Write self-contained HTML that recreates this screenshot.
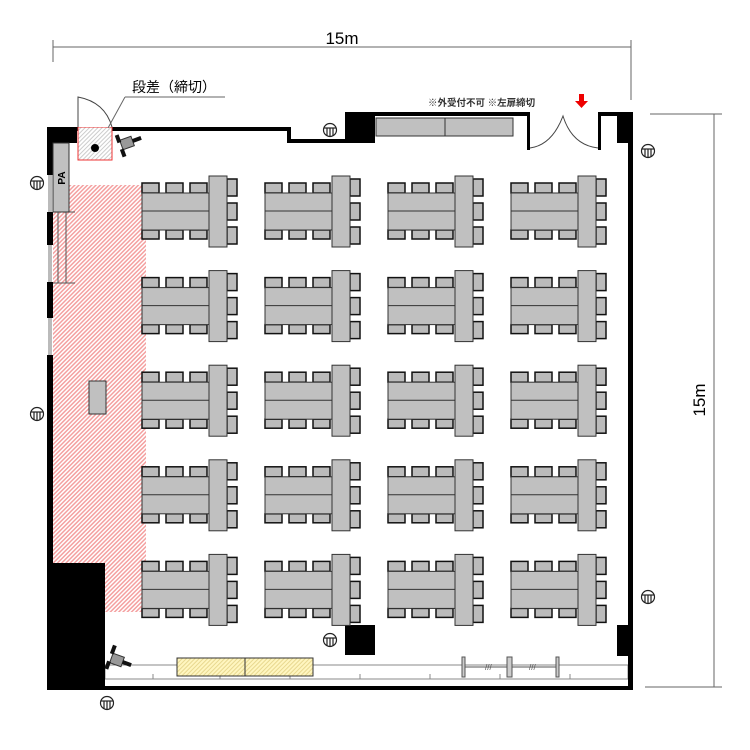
<!DOCTYPE html>
<html><head><meta charset="utf-8"><style>
html,body{margin:0;padding:0;background:#fff;}
svg{display:block;}
text{font-family:"Liberation Sans","Noto Sans CJK JP",sans-serif;}
</style></head><body>
<svg id="s" width="750" height="750" viewBox="0 0 750 750" xmlns="http://www.w3.org/2000/svg">
<defs>
<pattern id="pk" width="3" height="3" patternUnits="userSpaceOnUse" patternTransform="rotate(45)">
<rect width="3" height="3" fill="#fff"/><rect width="1.5" height="3" fill="#f4a0a0"/></pattern>
<pattern id="gy" width="3" height="3" patternUnits="userSpaceOnUse" patternTransform="rotate(45)">
<rect width="3" height="3" fill="#fff"/><rect width="1" height="3" fill="#ccc"/></pattern>
<pattern id="yl" width="3" height="3" patternUnits="userSpaceOnUse" patternTransform="rotate(45)">
<rect width="3" height="3" fill="#fff6c0"/><rect width="1" height="3" fill="#e8d890"/></pattern>
</defs>
<g stroke="#666" stroke-width="1">
<line x1="53" y1="47" x2="631" y2="47"/>
<line x1="53" y1="40" x2="53" y2="62"/>
<line x1="631" y1="40" x2="631" y2="100"/>
<line x1="714" y1="114" x2="714" y2="687"/>
<line x1="650" y1="114" x2="722" y2="114"/>
<line x1="645" y1="687" x2="722" y2="687"/>
</g>
<text x="342" y="44" font-size="17" text-anchor="middle">15m</text>
<text x="0" y="0" font-size="17" text-anchor="middle" transform="translate(705,400) rotate(-90)">15m</text>
<rect x="53" y="212" width="93" height="400" fill="url(#pk)"/>
<rect x="69" y="185" width="77" height="27" fill="url(#pk)"/>
<rect x="105" y="665" width="523" height="14" fill="#fff" stroke="#888"/>
<g stroke="#888"><line x1="153" y1="679" x2="153" y2="674"/><line x1="220" y1="679" x2="220" y2="674"/><line x1="290" y1="679" x2="290" y2="674"/><line x1="360" y1="679" x2="360" y2="674"/><line x1="430" y1="679" x2="430" y2="674"/><line x1="500" y1="679" x2="500" y2="674"/><line x1="570" y1="679" x2="570" y2="674"/></g>
<rect x="177" y="658" width="136" height="18" fill="url(#yl)" stroke="#333"/>
<line x1="245" y1="658" x2="245" y2="676" stroke="#333"/>
<g stroke="#555" fill="#ccc">
<rect x="462" y="657" width="3" height="20"/><rect x="507" y="657" width="5" height="20"/><rect x="556" y="657" width="3" height="20"/>
<line x1="465" y1="667" x2="507" y2="667"/><line x1="512" y1="667" x2="556" y2="667"/>
</g>
<text x="485" y="670" font-size="8" fill="#555">///</text><text x="529" y="670" font-size="8" fill="#555">///</text>
<g fill="#000">
<rect x="47" y="127" width="30" height="16"/>
<rect x="47" y="127" width="6" height="48"/>
<rect x="47" y="212" width="6" height="33"/>
<rect x="47" y="282" width="6" height="36"/>
<rect x="47" y="355" width="6" height="335"/>
<rect x="77" y="127" width="213" height="4"/>
<rect x="287" y="127" width="4" height="15"/>
<rect x="287" y="139" width="60" height="4"/>
<rect x="345" y="112" width="30" height="31"/>
<rect x="345" y="112" width="185" height="4"/>
<rect x="527" y="112" width="3" height="38"/>
<rect x="598" y="112" width="35" height="4"/>
<rect x="598" y="112" width="3" height="38"/>
<rect x="617" y="112" width="16" height="31"/>
<rect x="628" y="112" width="5" height="578"/>
<rect x="47" y="686" width="586" height="4"/>
<rect x="47" y="563" width="58" height="127"/>
<rect x="345" y="625" width="30" height="30"/>
<rect x="617" y="625" width="16" height="31"/>
</g>
<g fill="#bbb"><rect x="48" y="175" width="4" height="37"/><rect x="48" y="245" width="4" height="37"/><rect x="48" y="318" width="4" height="37"/></g>
<g stroke="#555" fill="none"><line x1="58" y1="212" x2="58" y2="283"/><line x1="66" y1="212" x2="66" y2="283"/><line x1="53" y1="212" x2="75" y2="212"/><line x1="53" y1="283" x2="75" y2="283"/></g>
<rect x="53" y="143" width="16" height="69" fill="#c0c0c0" stroke="#333"/>
<text x="0" y="0" font-size="10" font-weight="bold" text-anchor="middle" transform="translate(65,178) rotate(-90)">PA</text>
<rect x="376" y="118" width="137" height="18" fill="#c0c0c0" stroke="#333"/>
<line x1="445" y1="118" x2="445" y2="136" stroke="#333"/>
<path d="M530 148 Q552 145 563 116 Q572 145 598 148" fill="none" stroke="#444"/>
<rect x="78" y="127" width="34" height="33" fill="url(#gy)" stroke="#e33"/>
<path d="M78 127 L78 97 Q105 102 112 127" fill="#fff" stroke="#444"/>
<circle cx="95" cy="148" r="4" fill="#000"/>
<line x1="125" y1="97" x2="225" y2="97" stroke="#666"/>
<line x1="125" y1="97" x2="108" y2="128" stroke="#666"/>
<text x="132" y="92" font-size="14">段差（締切）</text>
<text x="428" y="106" font-size="9.5" font-weight="bold" fill="#333">※外受付不可 ※左扉締切</text>
<path d="M579 94 h5 v7 h4 l-6.5 7 l-6.5 -7 h4z" fill="#e00"/>
<g transform="translate(127,143) rotate(-20)"><rect x="-6" y="-5" width="12" height="10" fill="#999" stroke="#333"/><rect x="-9" y="-11" width="4" height="8" fill="#111"/><rect x="6" y="-2" width="9" height="4" fill="#111"/><rect x="-9" y="4" width="4" height="8" fill="#111"/></g>
<g transform="translate(117,660) rotate(20)"><rect x="-6" y="-5" width="12" height="10" fill="#999" stroke="#333"/><rect x="-9" y="-13" width="4" height="9" fill="#111"/><rect x="6" y="-2" width="9" height="4" fill="#111"/><rect x="-9" y="4" width="4" height="8" fill="#111"/></g>
<rect x="89" y="381" width="17" height="33" fill="#c0c0c0" stroke="#333"/>
<g id="outs" fill="#fff" stroke="#222" stroke-width="1.2"></g>
<g id="tables"></g>
</svg>
<script>
var ns="http://www.w3.org/2000/svg";
function R(p,x,y,w,h,f,s,sw){var r=document.createElementNS(ns,"rect");r.setAttribute("x",x);r.setAttribute("y",y);r.setAttribute("width",w);r.setAttribute("height",h);r.setAttribute("fill",f);r.setAttribute("stroke",s||"#333");if(sw)r.setAttribute("stroke-width",sw);p.appendChild(r);}
var T=document.getElementById("tables");
var cols=[142,265,388,511];
for(var i=0;i<5;i++){for(var j=0;j<4;j++){
var x=cols[j],y=176+i*94.6;
[0,24,48].forEach(function(d){R(T,x+d,y+7,17,10,"#bbb","#111",1.5);R(T,x+d,y+54,17,9,"#bbb","#111",1.5);});
R(T,x,y+17,68,37,"#c0c0c0");
var l=document.createElementNS(ns,"line");l.setAttribute("x1",x);l.setAttribute("x2",x+68);l.setAttribute("y1",y+35);l.setAttribute("y2",y+35);l.setAttribute("stroke","#333");T.appendChild(l);
[3,27,51].forEach(function(d){R(T,x+85,y+d,10,17,"#bbb","#111",1.5);});
R(T,x+67,y,18,71,"#c0c0c0");
}}
var O=document.getElementById("outs");
[[330,130],[37,183],[37,414],[648,151],[648,597],[330,640],[107,703]].forEach(function(p){
var c=document.createElementNS(ns,"circle");c.setAttribute("cx",p[0]);c.setAttribute("cy",p[1]);c.setAttribute("r",6.5);O.appendChild(c);
var l=document.createElementNS(ns,"line");l.setAttribute("x1",p[0]-6);l.setAttribute("x2",p[0]+6);l.setAttribute("y1",p[1]-2);l.setAttribute("y2",p[1]-2);O.appendChild(l);
[-3,0,3].forEach(function(d){var m=document.createElementNS(ns,"line");m.setAttribute("x1",p[0]+d);m.setAttribute("x2",p[0]+d);m.setAttribute("y1",p[1]-2);m.setAttribute("y2",p[1]+6);O.appendChild(m);});});
</script>
</body></html>
